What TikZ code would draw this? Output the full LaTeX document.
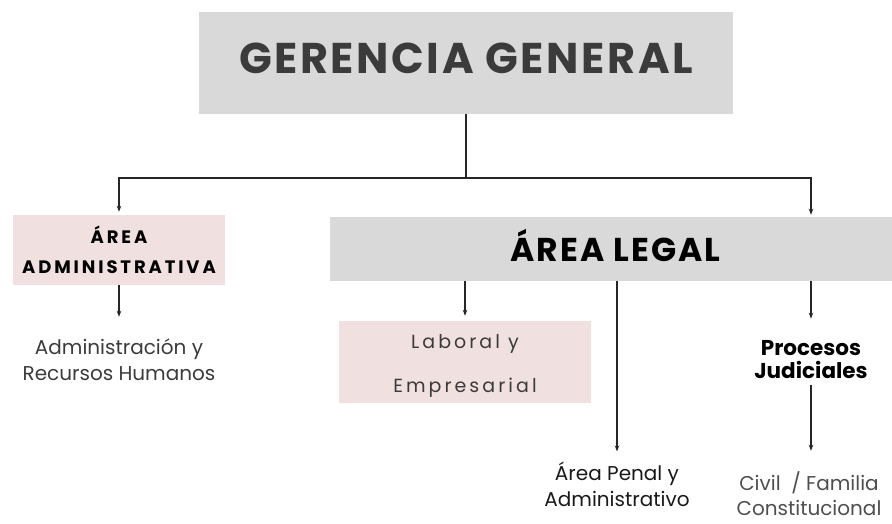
\documentclass[tikz,border=0pt]{standalone}
\usepackage{xcolor}
\usepackage{fontspec}
\setmainfont{Poppins}
\newfontfamily\headfont[LetterSpace=6]{Poppins}
\newfontfamily\adminfont[LetterSpace=16]{Poppins}
\newfontfamily\wideroman[LetterSpace=16]{Poppins}
\usetikzlibrary{arrows.meta, positioning}

\begin{document}
\begin{tikzpicture}[x=1pt, y=-1pt]
		\definecolor{boxgray}{RGB}{217,217,217}
		\definecolor{boxpink}{RGB}{240,224,224}
		\definecolor{inkdark}{RGB}{60,59,59}
		\definecolor{inkgray}{RGB}{78,78,78}
		\tikzstyle{graybox} = [rectangle, fill=boxgray, inner sep=0pt, text centered]
		\tikzstyle{pinkbox} = [rectangle, fill=boxpink, inner sep=0pt, align=center]
		\tikzstyle{plain} = [inner sep=0pt, align=center, font=\fontsize{20}{26}\selectfont]
		\tikzstyle{link} = [line width=1.4pt, draw=black!85]
		
		\useasboundingbox (0,0) rectangle (892,524);
		
		\node (gerencia) [graybox, minimum width=534pt, minimum height=102pt, text depth=10pt, text=inkdark, font=\headfont\bfseries\fontsize{43}{50}\selectfont] at (466,63) {GERENCIA GENERAL};
		\coordinate (split) at (466,178);
		
		\node (admin) [pinkbox, minimum width=212pt, minimum height=70pt, font=\adminfont\bfseries\fontsize{18}{30}\selectfont] at (119,250) {ÁREA\\ADMINISTRATIVA};
		\node (legal) [graybox, minimum width=571pt, minimum height=64pt, text depth=8pt, font=\headfont\bfseries\fontsize{33}{40}\selectfont] at (615.5,249) {ÁREA LEGAL};
		
		\node (adminrh) [plain, text=inkdark] at (119,360) {Administración y\\Recursos Humanos};
		\node (laboral) [pinkbox, minimum width=252pt, minimum height=82pt, text=inkdark, font=\wideroman\fontsize{19}{44}\selectfont] at (465,362) {\rule{0pt}{22pt}Laboral y\\Empresarial};
		\node (procesos) [plain, font=\bfseries\fontsize{21.5}{23}\selectfont] at (811,360) {Procesos\\Judiciales};
		\node (penal) [plain, text=black!90] at (617,484) {Área Penal y\\Administrativo};
		\node (civil) [plain, text=inkgray, font=\fontsize{20}{25}\selectfont] at (809,494) {Civil~~/ Familia\\Constitucional};
		
		\draw [link] (gerencia) -- (split);
		\draw [link, -{Stealth[length=6pt]}, shorten >=3pt] (split) -| (admin);
		\draw [link, -{Stealth[length=6pt]}, shorten >=2pt] (split) -| (procesos.north |- legal.north);
		
		\draw [link, -{Stealth[length=6pt]}, shorten >=22pt] (admin) -- (adminrh);
		\draw [link, -{Stealth[length=6pt]}, shorten >=5pt] (laboral |- legal.south) -- (laboral);
		\draw [link, -{Stealth[length=6pt]}, shorten >=10pt] (penal |- legal.south) -- (penal);
		\draw [link, -{Stealth[length=6pt]}, shorten >=22pt] (procesos |- legal.south) -- (procesos);
		\draw [link, -{Stealth[length=6pt]}, shorten <=6pt, shorten >=21pt] (procesos) -- (procesos |- civil.north);
	\end{tikzpicture}
\end{document}
